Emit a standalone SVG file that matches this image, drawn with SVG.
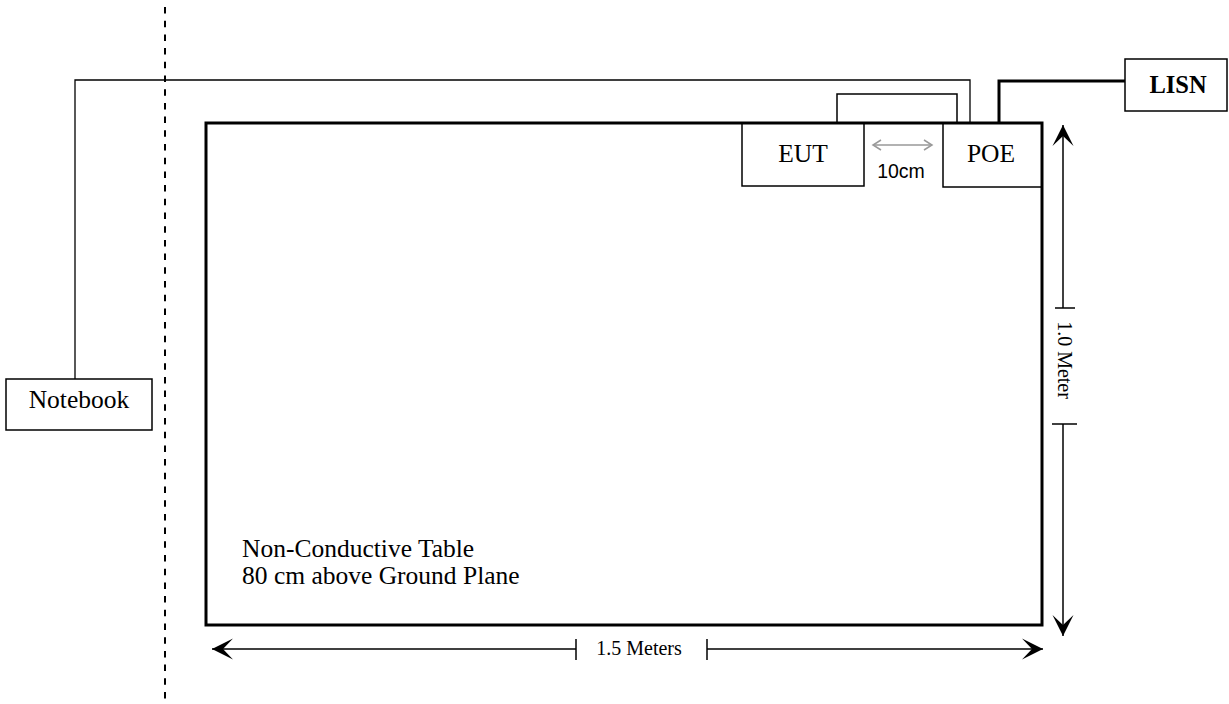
<svg xmlns="http://www.w3.org/2000/svg" width="1229" height="704" viewBox="0 0 1229 704">
<style>
.serif{font-family:"Liberation Serif","Times New Roman",serif;fill:#000}
.big{font-size:25.5px}
.dim{font-size:20px}
.sans{font-family:"Liberation Sans",Arial,sans-serif;fill:#000}
.box{fill:none;stroke:#000;stroke-width:1.5}
.wire{fill:none;stroke:#000}
</style>
<defs>
<marker id="arr" markerUnits="userSpaceOnUse" markerWidth="24" markerHeight="24" viewBox="-23 -12 24 24" refX="0" refY="0" orient="auto-start-reverse">
<path d="M0,0 L-21,-10.5 L-11,0 L-21,10.5 Z" fill="#000"/>
</marker>
<marker id="garr" markerUnits="userSpaceOnUse" markerWidth="12" markerHeight="12" viewBox="-10 -6 12 12" refX="0" refY="0" orient="auto-start-reverse">
<path d="M-8,-5 L0,0 L-8,5" fill="none" stroke="#999" stroke-width="1.5"/>
</marker>
</defs>

<g id="boundary">
<line x1="165" y1="7" x2="165" y2="704" stroke="#000" stroke-width="2" stroke-dasharray="6.5 7.2"/>
</g>

<g id="table">
<rect x="206" y="123" width="836" height="502" fill="none" stroke="#000" stroke-width="3"/>
<text class="serif big" x="242" y="557">Non-Conductive Table</text>
<text class="serif big" x="242" y="583.5">80 cm above Ground Plane</text>
</g>

<g id="eut">
<rect class="box" x="742" y="123" width="122" height="63"/>
<text class="serif big" x="803" y="162" text-anchor="middle">EUT</text>
</g>

<g id="poe">
<rect class="box" x="943" y="123" width="99" height="64" stroke-width="1.2"/>
<text class="serif big" x="991" y="162" text-anchor="middle">POE</text>
</g>

<g id="lisn">
<rect class="box" x="1125" y="59" width="102" height="52"/>
<text class="serif" x="1178" y="93" font-size="24.5" font-weight="bold" text-anchor="middle">LISN</text>
</g>

<g id="notebook">
<rect class="box" x="6" y="379" width="146" height="51"/>
<text class="serif big" x="79" y="407.5" text-anchor="middle">Notebook</text>
</g>

<g id="connectors">
<polyline class="wire" stroke-width="1.3" points="75,379 75,80 970,80 970,124"/>
<polyline class="wire" stroke-width="1.5" points="837,123 837,94 957,94 957,123"/>
<polyline class="wire" stroke-width="3" points="999,123 999,81 1125,81"/>
</g>

<g id="dim-10cm">
<line x1="873" y1="145" x2="932" y2="145" stroke="#999" stroke-width="1.5" marker-start="url(#garr)" marker-end="url(#garr)"/>
<text class="sans" x="901" y="178" font-size="19.5" text-anchor="middle">10cm</text>
</g>

<g id="dim-width">
<line x1="212" y1="649" x2="576" y2="649" stroke="#000" stroke-width="1.5" marker-start="url(#arr)"/>
<line x1="576" y1="639" x2="576" y2="660" stroke="#000" stroke-width="1.5"/>
<text class="serif dim" x="639" y="655" text-anchor="middle">1.5 Meters</text>
<line x1="707" y1="649" x2="1043" y2="649" stroke="#000" stroke-width="1.5" marker-end="url(#arr)"/>
<line x1="707" y1="639" x2="707" y2="660" stroke="#000" stroke-width="1.5"/>
</g>

<g id="dim-height">
<line x1="1063" y1="125" x2="1063" y2="308" stroke="#000" stroke-width="1.5" marker-start="url(#arr)"/>
<line x1="1055" y1="308" x2="1075" y2="308" stroke="#000" stroke-width="1.5"/>
<text class="serif dim" x="0" y="0" text-anchor="middle" transform="translate(1058,360) rotate(90)">1.0 Meter</text>
<line x1="1052" y1="424" x2="1077" y2="424" stroke="#000" stroke-width="1.5"/>
<line x1="1063" y1="424" x2="1063" y2="636" stroke="#000" stroke-width="1.5" marker-end="url(#arr)"/>
</g>
</svg>
